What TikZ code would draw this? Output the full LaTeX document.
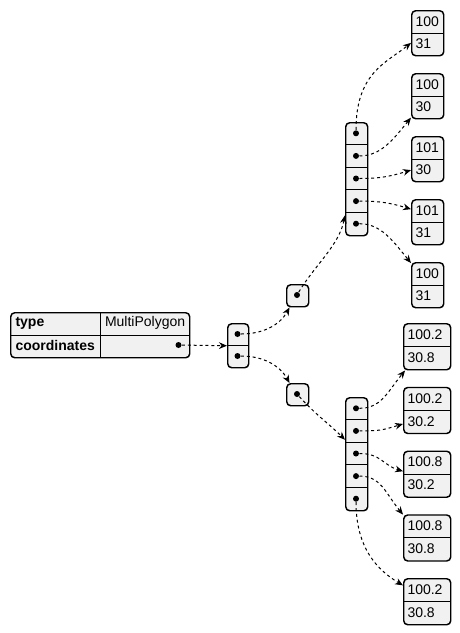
\documentclass[tikz,border=0pt]{standalone}
\usepackage{fontspec}
\setmainfont{Liberation Sans}
\usetikzlibrary{arrows.meta}
\definecolor{cellfill}{RGB}{241,241,241}

\tikzset{every picture/.style={line width=0.75pt}}
\tikzset{
  cellbox/.style={draw, fill=cellfill, line width=1.1pt, rounded corners=3pt, inner sep=0pt, anchor=north west},
  ptr/.style={circle, fill=black, inner sep=0pt, minimum size=4.5pt},
  lbl/.style={anchor=west, inner sep=0pt, font=\fontsize{10.5}{12}\selectfont},
  ptrlink/.style={dash pattern=on 2.2pt off 2.2pt, -{Stealth[length=6pt,width=5pt]}}
}

\begin{document}
\begin{tikzpicture}[x=0.75pt,y=0.75pt,yscale=-1,xscale=1]
\useasboundingbox (0,0) rectangle (460,633);

%Shape: Table [type / coordinates]
\node[cellbox, minimum width=134.25pt, minimum height=33.75pt] (tbl) at (10,312) {};
\draw (tbl.west) -- (tbl.east);
\draw (100,312) -- (100,357);
% Text Node
\node[lbl, font=\fontsize{10.5}{12}\selectfont\bfseries] (keytype) at (15,323.25) {type};
\node[lbl, font=\fontsize{10.5}{12}\selectfont\bfseries] (keycoord) at (15,345.75) {coordinates};
\node[lbl] (valtype) at (104.5,323.25) {MultiPolygon};
\node[ptr] (tdot) at (178.5,345) {};

%Shape: outer array
\node[cellbox, minimum width=15.75pt, minimum height=33pt] (arr) at (227,323) {};
\draw (arr.west) -- (arr.east);
\node[ptr] (ap1) at (237.5,334) {};
\node[ptr] (ap2) at (237.5,356) {};

%Shape: polygon arrays
\node[cellbox, minimum width=16.5pt, minimum height=16.5pt] (poly1) at (286,284) {};
\node[ptr] (pp1) at (297,295) {};
\node[cellbox, minimum width=16.5pt, minimum height=16.5pt] (poly2) at (286,383) {};
\node[ptr] (pp2) at (297,394) {};

%Shape: ring arrays
\node[cellbox, minimum width=16.5pt, minimum height=84.75pt] (ring1) at (345,122) {};
\node[cellbox, minimum width=16.5pt, minimum height=84.75pt] (ring2) at (345,397) {};
\foreach \i in {1,...,4} {
  \draw (345,{122+22.6*\i}) -- (367,{122+22.6*\i});
  \draw (345,{397+22.6*\i}) -- (367,{397+22.6*\i});
}
\foreach \i in {1,...,5} {
  \node[ptr] (ra\i) at (356,{122+22.6*\i-11.3}) {};
  \node[ptr] (rb\i) at (356,{397+22.6*\i-11.3}) {};
}

%Shape: points, first ring
\foreach \i/\a/\b in {1/100/31, 2/100/30, 3/101/30, 4/101/31, 5/100/31} {
  \node[cellbox, minimum width=24pt, minimum height=33.75pt] (pa\i) at (411,{10+63*(\i-1)}) {};
  \draw (pa\i.west) -- (pa\i.east);
  \node[lbl] (lona\i) at (415,{21.25+63*(\i-1)}) {\a};
  \node[lbl] (lata\i) at (415,{43.75+63*(\i-1)}) {\b};
}

%Shape: points, second ring
\foreach \i/\a/\b in {1/100.2/30.8, 2/100.2/30.2, 3/100.8/30.2, 4/100.8/30.8, 5/100.2/30.8} {
  \node[cellbox, minimum width=35.25pt, minimum height=34.5pt] (pb\i) at (403,{323+63.75*(\i-1)}) {};
  \draw (pb\i.west) -- (pb\i.east);
  \node[lbl] (lonb\i) at (407,{334.5+63.75*(\i-1)}) {\a};
  \node[lbl] (latb\i) at (407,{357.5+63.75*(\i-1)}) {\b};
}

%Curve Lines
\draw[ptrlink] (tdot) -- (arr.west);
\draw[ptrlink] (ap1) .. controls +(25,0) and +(-10,18) .. (poly1.235);
\draw[ptrlink] (ap2) .. controls +(25,0) and +(-10,-18) .. (poly2.125);
\draw[ptrlink] (pp1) .. controls +(18,-30) and +(-6,30) .. (ring1.252);
\draw[ptrlink] (pp2) .. controls +(18,20) and +(-15,-15) .. (ring2.129);

\draw[ptrlink] (ra1) .. controls +(0,-60) and +(-25,20) .. (pa1.210);
\draw[ptrlink] (ra2) .. controls +(25,0) and +(-18,22) .. (pa2.232);
\draw[ptrlink] (ra3) .. controls +(25,0) and +(-20,6) .. (pa3.213);
\draw[ptrlink] (ra4) .. controls +(25,0) and +(-20,-6) .. (pa4.142);
\draw[ptrlink] (ra5) .. controls +(25,0) and +(-18,-22) .. (pa5.127);

\draw[ptrlink] (rb1) .. controls +(25,0) and +(-18,22) .. (pb1.227);
\draw[ptrlink] (rb2) .. controls +(25,0) and +(-20,6) .. (pb2.209);
\draw[ptrlink] (rb3) .. controls +(25,0) and +(-20,-6) .. (pb3.173);
\draw[ptrlink] (rb4) .. controls +(25,0) and +(-18,-22) .. (pb4.136);
\draw[ptrlink] (rb5) .. controls +(0,50) and +(-25,-15) .. (pb5.146);

\end{tikzpicture}
\end{document}
